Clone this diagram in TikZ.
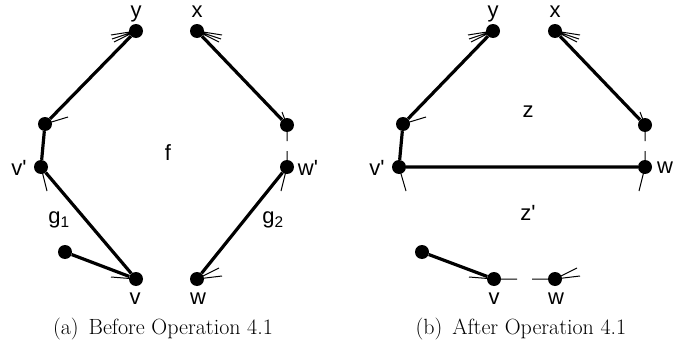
\documentclass[tikz,border=0pt]{standalone}
\usepackage{fontspec}
\newfontfamily\labfont{Liberation Sans}
\usetikzlibrary{positioning}

\begin{document}
\begin{tikzpicture}[x=1pt, y=-1pt,
    dot/.style={circle, fill=black, inner sep=0pt, minimum size=14pt},
    lab/.style={font=\labfont\fontsize{22}{26}\selectfont, inner sep=0pt},
    edge/.style={line width=3.2pt},
    stub/.style={line width=1pt},
    captext/.style={font=\fontsize{22}{26}\selectfont, inner sep=0pt}
  ]
  \useasboundingbox (0,0) rectangle (673,356);

  % (a) before the operation
  \node[dot] (ay) at (136,31) {};
  \node[dot] (ax) at (197,31) {};
  \node[dot] (aul) at (45,124) {};
  \node[dot] (aur) at (287,125) {};
  \node[dot] (avp) at (41,167) {};
  \node[dot] (awp) at (287,167) {};
  \node[dot] (aext) at (65,252) {};
  \node[dot] (av) at (136,279) {};
  \node[dot] (aw) at (197,279) {};
  \draw[edge] (ay) -- (aul) -- (avp) -- (av);
  \draw[edge] (aext) -- (av);
  \draw[edge] (ax) -- (aur);
  \draw[edge] (awp) -- (aw);
  \draw[stub] (ay.center) -- ++(-25,4) (ay.center) -- ++(-24,8) (ay.center) -- ++(-22,11);
  \draw[stub] (ax.center) -- ++(25,4) (ax.center) -- ++(24,8) (ax.center) -- ++(22,11);
  \draw[stub] (aul.center) -- ++(23,-7);
  \draw[stub] (avp.center) -- ++(6,24);
  \draw[stub] (aur.center) -- ++(-5,-13) (aur.center) -- ++(0,16);
  \draw[stub] (awp.center) -- ++(0,-16) (awp.center) -- ++(-6,24);
  \draw[stub] (av.center) -- ++(-25,-2);
  \draw[stub] (aw.center) -- ++(22,-11) (aw.center) -- ++(25,-3);
  \node[lab] (lay) at (136,13.5) {y};
  \node[lab] (lax) at (197,12) {x};
  \node[lab] (lavp) at (19,168) {v\textquotesingle};
  \node[lab] (lawp) at (308,168) {w\textquotesingle};
  \node[lab] (lav) at (135,299) {v};
  \node[lab] (law) at (198,299) {w};
  \node[lab] (lf) at (168,153) {f};
  \node[lab] (lg1) at (59,220) {g\textsubscript{1}};
  \node[lab] (lg2) at (273,220) {g\textsubscript{2}};
  \node[captext] (capa) at (163,329) {(a)\hspace{.45em}Before Operation 4.1};

  % (b) after the operation
  \node[dot] (by) at (493,31) {};
  \node[dot] (bx) at (555,31) {};
  \node[dot] (bul) at (403,124) {};
  \node[dot] (bur) at (645,125) {};
  \node[dot] (bvp) at (399,167) {};
  \node[dot] (bw) at (645,167) {};
  \node[dot] (bext) at (422,252) {};
  \node[dot] (bv) at (494,279) {};
  \node[dot] (bw2) at (555,279) {};
  \draw[edge] (by) -- (bul) -- (bvp) -- (bw);
  \draw[edge] (bx) -- (bur);
  \draw[edge] (bext) -- (bv);
  \draw[stub] (by.center) -- ++(-25,4) (by.center) -- ++(-24,8) (by.center) -- ++(-22,11);
  \draw[stub] (bx.center) -- ++(25,4) (bx.center) -- ++(24,8) (bx.center) -- ++(22,11);
  \draw[stub] (bul.center) -- ++(23,-7);
  \draw[stub] (bvp.center) -- ++(7,24);
  \draw[stub] (bur.center) -- ++(-5,-13) (bur.center) -- ++(0,16);
  \draw[stub] (bw.center) -- ++(0,-16) (bw.center) -- ++(-6,24);
  \draw[stub] (bv.center) -- ++(-25,-2) (bv.center) -- ++(23,0);
  \draw[stub] (bw2.center) -- ++(-23,0) (bw2.center) -- ++(22,-11) (bw2.center) -- ++(25,-3);
  \node[lab] (lby) at (493,13.5) {y};
  \node[lab] (lbx) at (555,12) {x};
  \node[lab] (lbvp) at (377,168) {v\textquotesingle};
  \node[lab] (lbw) at (665,168) {w};
  \node[lab] (lbv) at (494,299) {v};
  \node[lab] (lbw2) at (556,299) {w};
  \node[lab] (lz) at (528,112) {z};
  \node[lab] (lzp) at (528,213) {z\textquotesingle};
  \node[captext] (capb) at (521,329) {(b)\hspace{.45em}After Operation 4.1};
\end{tikzpicture}
\end{document}
